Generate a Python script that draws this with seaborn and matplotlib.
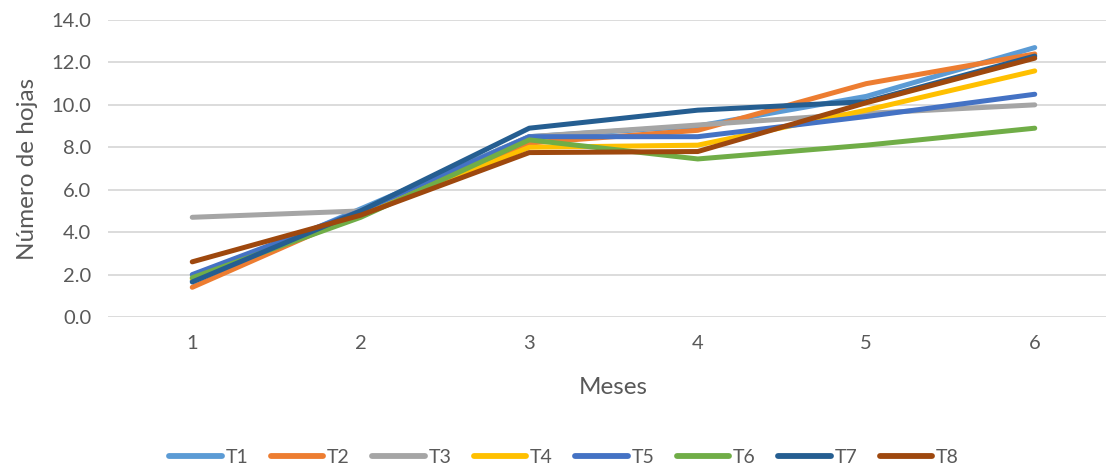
import pandas as pd
import matplotlib
matplotlib.use("Agg")
import matplotlib.pyplot as plt
import seaborn as sns

# ---------------------------------------
# Data
# ---------------------------------------
meses = [1, 2, 3, 4, 5, 6]
t1 = [1.7, 5.1, 8.5, 9.0, 10.4, 12.7]
t2 = [1.4, 4.9, 8.2, 8.8, 11.0, 12.4]
t3 = [4.7, 5.0, 8.5, 9.05, 9.6, 10.0]
t4 = [1.8, 4.8, 8.0, 8.1, 9.75, 11.6]
t5 = [2.0, 5.0, 8.5, 8.5, 9.45, 10.5]
t6 = [1.85, 4.7, 8.35, 7.45, 8.1, 8.9]
t7 = [1.65, 5.0, 8.9, 9.75, 10.15, 12.3]
t8 = [2.6, 4.8, 7.75, 7.8, 10.1, 12.2]

series = {"T1": t1, "T2": t2, "T3": t3, "T4": t4,
          "T5": t5, "T6": t6, "T7": t7, "T8": t8}
colores = ["#5B9BD5", "#ED7D31", "#A5A5A5", "#FFC000",
           "#4472C4", "#70AD47", "#255E91", "#9E480E"]

rows = []
for name, vals in series.items():
    for m, v in zip(meses, vals):
        rows.append({"Meses": m, "Hojas": v, "Tratamiento": name})
df = pd.DataFrame(rows)

# ---------------------------------------
# Plot
# ---------------------------------------
sns.set_style("white")
plt.rcParams["font.family"] = ["Lato", "DejaVu Sans"]

fig = plt.figure(figsize=(11.06, 4.68), dpi=100)
ax = fig.add_axes([108 / 1106, 151 / 468, 1011 / 1106, 297 / 468])

sns.lineplot(data=df, x="Meses", y="Hojas", hue="Tratamiento",
             palette=colores, linewidth=3.6, ax=ax, legend=True,
             solid_capstyle="round")

ax.set_xlim(0.5, 6.5)
ax.set_ylim(0, 14)
ax.set_xticks(meses)
ax.set_yticks(range(0, 15, 2))
ax.set_yticklabels([f"{v:.1f}" for v in range(0, 15, 2)])
ax.grid(axis="y", color="#D9D9D9", linewidth=1.3)
ax.set_axisbelow(True)
for s in ax.spines.values():
    s.set_visible(False)
ax.tick_params(axis="both", length=0, labelsize=14.5, colors="#595959")
ax.tick_params(axis="x", pad=13)
ax.tick_params(axis="y", pad=12)
ax.set_xlabel("Meses", fontsize=17.5, color="#595959", labelpad=18)
ax.set_ylabel("Número de hojas", fontsize=17.5, color="#595959", labelpad=10)

handles, labels = ax.get_legend_handles_labels()
ax.get_legend().remove()
for h in handles:
    h.set_linewidth(4.2)
    h.set_solid_capstyle("round")
leg = fig.legend(handles, labels, loc="center", bbox_to_anchor=(0.51, 0.022),
                 ncol=8, frameon=False, fontsize=14, handlelength=2.7,
                 handletextpad=0.2, columnspacing=1.15)
for t in leg.get_texts():
    t.set_color("#595959")

fig.savefig("out.png", dpi=100)
